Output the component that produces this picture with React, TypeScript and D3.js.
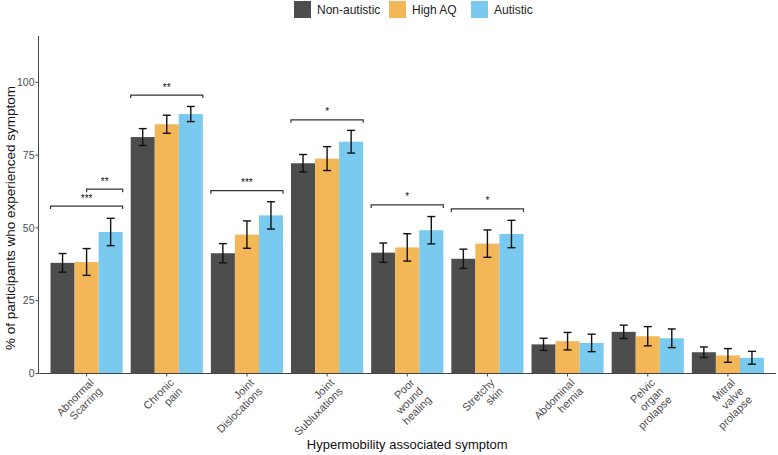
import React, { useRef, useEffect } from "react";
import * as d3 from "d3";

const categories = [
  "Abnormal\nScarring",
  "Chronic\npain",
  "Joint\nDislocations",
  "Joint\nSubluxations",
  "Poor\nwound\nhealing",
  "Stretchy\nskin",
  "Abdominal\nhernia",
  "Pelvic\norgan\nprolapse",
  "Mitral\nvalve\nprolapse",
];
const groups = ["Non-autistic", "High AQ", "Autistic"];
const colors = ["#4d4d4d", "#f4b757", "#79caee"];

const nonAutistic = [38.0, 81.2, 41.3, 72.2, 41.5, 39.4, 10.0, 14.3, 7.3];
const highAQ = [38.3, 85.6, 47.7, 73.8, 43.3, 44.6, 11.1, 12.8, 6.2];
const autistic = [48.6, 89.1, 54.3, 79.6, 49.2, 47.9, 10.5, 12.1, 5.4];
const nonAutisticErr = [3.2, 2.9, 3.3, 3.0, 3.3, 3.3, 2.1, 2.3, 1.8];
const highAQErr = [4.6, 3.1, 4.7, 4.1, 4.7, 4.7, 3.0, 3.3, 2.35];
const autisticErr = [4.7, 2.6, 4.7, 3.9, 4.7, 4.7, 3.0, 3.2, 2.2];

// significance brackets
const sigGroup = [0, 0, 1, 2, 3, 4, 5];
const sigFrom = [0, 0.5, 0, 0, 0, 0, 0];
const sigTo = [1, 1, 1, 1, 1, 1, 1];
const sigY = [57.5, 63.3, 95.6, 62.8, 87.1, 57.9, 56.5];
const sigLabel = ["***", "**", "**", "***", "*", "*", "*"];

const yTicks = [0, 25, 50, 75, 100];

const App: React.FC = () => {
  const svg = useRef<SVGSVGElement>(null);
  const width = 778;
  const height = 455;
  const font = "'Liberation Sans', Arial, Helvetica, sans-serif";

  useEffect(() => {
    const s = d3.select(svg.current);
    s.selectAll("*").remove();

    const left = 38.5;
    const right = 776;
    const top = 36;
    const bottom = 373.5;

    const x = d3
      .scaleBand<number>()
      .domain(d3.range(categories.length))
      .range([left, right])
      .paddingInner(0.1)
      .paddingOuter(0.15);
    const xi = d3
      .scaleBand<number>()
      .domain(d3.range(groups.length))
      .range([0, x.bandwidth()]);
    const y = d3.scaleLinear().domain([0, 115.9]).range([bottom, top]);

    const series = [nonAutistic, highAQ, autistic];
    const errs = [nonAutisticErr, highAQErr, autisticErr];

    const rows = categories.flatMap((c, i) =>
      groups.map((g, j) => ({
        i,
        j,
        v: series[j][i],
        e: errs[j][i],
      }))
    );

    const g = s.append("g");

    // bars
    g.selectAll("rect.bar")
      .data(rows)
      .join("rect")
      .attr("class", "bar")
      .attr("x", (d) => x(d.i)! + xi(d.j)!)
      .attr("width", xi.bandwidth())
      .attr("y", (d) => y(d.v))
      .attr("height", (d) => y(0) - y(d.v))
      .attr("fill", (d) => colors[d.j]);

    // error bars
    const eb = g
      .selectAll("g.err")
      .data(rows)
      .join("g")
      .attr("class", "err")
      .attr("stroke", "#111")
      .attr("stroke-width", 1.4);
    const cx = (d: any) => x(d.i)! + xi(d.j)! + xi.bandwidth() / 2;
    eb.append("line")
      .attr("x1", cx)
      .attr("x2", cx)
      .attr("y1", (d) => y(d.v - d.e))
      .attr("y2", (d) => y(d.v + d.e));
    eb.append("line")
      .attr("x1", (d) => cx(d) - 4)
      .attr("x2", (d) => cx(d) + 4)
      .attr("y1", (d) => y(d.v + d.e))
      .attr("y2", (d) => y(d.v + d.e));
    eb.append("line")
      .attr("x1", (d) => cx(d) - 4)
      .attr("x2", (d) => cx(d) + 4)
      .attr("y1", (d) => y(d.v - d.e))
      .attr("y2", (d) => y(d.v - d.e));

    // significance brackets
    const sig = sigGroup.map((c, k) => ({
      x1: x(c)! + sigFrom[k] * x.bandwidth(),
      x2: x(c)! + sigTo[k] * x.bandwidth(),
      yy: y(sigY[k]),
      label: sigLabel[k],
    }));
    g.selectAll("path.sig")
      .data(sig)
      .join("path")
      .attr("class", "sig")
      .attr("fill", "none")
      .attr("stroke", "#333")
      .attr("stroke-width", 1.2)
      .attr("d", (d) => `M${d.x1},${d.yy + 3}V${d.yy}H${d.x2}V${d.yy + 3}`);
    g.selectAll("text.sig")
      .data(sig)
      .join("text")
      .attr("class", "sig")
      .attr("x", (d) => (d.x1 + d.x2) / 2)
      .attr("y", (d) => d.yy - 4.5)
      .attr("text-anchor", "middle")
      .attr("font-family", font)
      .attr("font-size", 10)
      .attr("fill", "#111")
      .text((d) => d.label);

    // axes
    const axisColor = "#444";
    g.append("line")
      .attr("x1", left)
      .attr("x2", left)
      .attr("y1", top)
      .attr("y2", bottom)
      .attr("stroke", axisColor);
    g.append("line")
      .attr("x1", left)
      .attr("x2", right)
      .attr("y1", bottom)
      .attr("y2", bottom)
      .attr("stroke", axisColor);

    g.selectAll("line.ytick")
      .data(yTicks)
      .join("line")
      .attr("class", "ytick")
      .attr("x1", left - 3)
      .attr("x2", left)
      .attr("y1", (d) => y(d))
      .attr("y2", (d) => y(d))
      .attr("stroke", axisColor);
    g.selectAll("text.ytick")
      .data(yTicks)
      .join("text")
      .attr("class", "ytick")
      .attr("x", left - 4)
      .attr("y", (d) => y(d))
      .attr("dy", "0.35em")
      .attr("text-anchor", "end")
      .attr("font-family", font)
      .attr("font-size", 10.5)
      .attr("fill", "#4d4d4d")
      .text((d) => d);

    const idx = d3.range(categories.length);
    g.selectAll("line.xtick")
      .data(idx)
      .join("line")
      .attr("class", "xtick")
      .attr("x1", (d) => x(d)! + x.bandwidth() / 2)
      .attr("x2", (d) => x(d)! + x.bandwidth() / 2)
      .attr("y1", bottom)
      .attr("y2", bottom + 3)
      .attr("stroke", axisColor);

    const xl = g
      .selectAll("text.xtick")
      .data(idx)
      .join("text")
      .attr("class", "xtick")
      .attr(
        "transform",
        (d) => `translate(${x(d)! + x.bandwidth() / 2 - 1},${bottom + 1}) rotate(-45)`
      )
      .attr("text-anchor", "end")
      .attr("font-family", font)
      .attr("font-size", 11)
      .attr("fill", "#4d4d4d");
    xl.selectAll("tspan")
      .data((d) => categories[d].split("\n"))
      .join("tspan")
      .attr("x", 0)
      .attr("y", (d, k) => 12.5 + k * 12)
      .text((d) => d);

    // axis titles
    s.append("text")
      .attr("x", (left + right) / 2)
      .attr("y", 449)
      .attr("text-anchor", "middle")
      .attr("font-family", font)
      .attr("font-size", 13)
      .attr("fill", "#111")
      .text("Hypermobility associated symptom");
    s.append("text")
      .attr("transform", `translate(15,218) rotate(-90)`)
      .attr("text-anchor", "middle")
      .attr("font-family", font)
      .attr("font-size", 13.5)
      .attr("fill", "#111")
      .text("% of participants who experienced symptom");

    // legend
    const legX = [294, 389, 471];
    const leg = s
      .selectAll("g.leg")
      .data(groups)
      .join("g")
      .attr("class", "leg")
      .attr("transform", (d, k) => `translate(${legX[k]},1)`);
    leg.append("rect")
      .attr("width", 17)
      .attr("height", 17)
      .attr("fill", (d, k) => colors[k]);
    leg.append("text")
      .attr("x", 23)
      .attr("y", 13)
      .attr("font-family", font)
      .attr("font-size", 12)
      .attr("fill", "#222")
      .text((d) => d);
  }, []);

  return (
    <svg
      ref={svg}
      width={width}
      height={height}
      style={{ position: "absolute", left: 0, top: 0, background: "#fff" }}
    ></svg>
  );
};

export default App;
